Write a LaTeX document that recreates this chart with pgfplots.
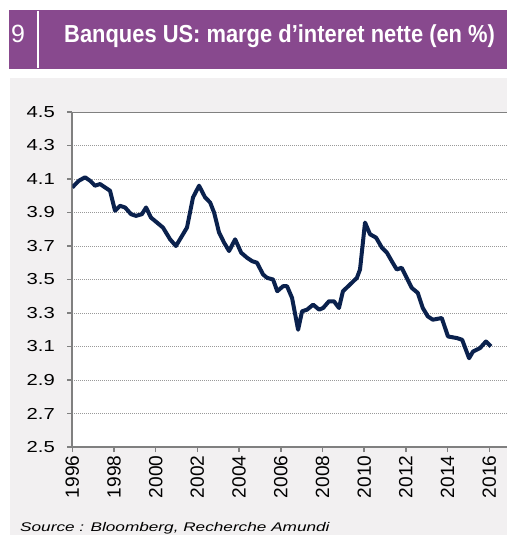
\documentclass[border=0pt]{standalone}
\usepackage{fontspec}
\setmainfont{Liberation Sans}
\newfontfamily\ylab[FakeStretch=1.27]{Liberation Sans}
\newfontfamily\srcfont[FakeStretch=1.37]{Liberation Sans}
\newfontfamily\titlefont[FakeStretch=0.89]{Liberation Sans}
\usepackage{pgfplots}
\pgfplotsset{compat=1.18}
\definecolor{purp}{RGB}{136,73,142}
\definecolor{panel}{RGB}{242,240,241}
\definecolor{navy}{RGB}{10,33,77}
\definecolor{axgray}{RGB}{128,128,128}
\begin{document}
\begin{tikzpicture}[x=1bp,y=1bp]
\useasboundingbox (0,0) rectangle (507,-535);
\fill[white] (0,0) rectangle (507,-535);
\fill[purp] (9,-10) rectangle (507,-69);
\fill[panel] (10,-78) rectangle (507,-535);
\draw[white, line width=2bp] (38.3,-11) -- (38.3,-68);
\node[anchor=base west, text=white, font=\fontsize{25}{25}\selectfont, inner sep=0] at (11,-43) {9};
\node[anchor=base west, text=white, font=\titlefont\bfseries\fontsize{24.7}{25}\selectfont, inner sep=0] at (64,-42.7) {Banques US: marge d’interet nette (en \%)};
\node[anchor=base west, font=\srcfont\itshape\fontsize{12.6}{13}\selectfont, inner sep=0] at (20,-531.5) {Source : Bloomberg, Recherche Amundi};
\begin{axis}[
  at={(72.3bp,-112bp)}, anchor=north west,
  scale only axis, width=434.7bp, height=335bp,
  xmin=1996, xmax=2016.85, ymin=2.5, ymax=4.5,
  axis x line*=bottom, axis y line*=left,
  axis line style={axgray, line width=2bp},
  axis background/.style={fill=white},
  tick align=outside, major tick length=5bp,
  tick style={axgray, line width=1.5bp},
  xtick={1996,1998,2000,2002,2004,2006,2008,2010,2012,2014,2016},
  xticklabels={1996,1998,2000,2002,2004,2006,2008,2010,2012,2014,2016},
  ytick={2.5,2.7,2.9,3.1,3.3,3.5,3.7,3.9,4.1,4.3,4.5},
  yticklabels={2.5,2.7,2.9,3.1,3.3,3.5,3.7,3.9,4.1,4.3,4.5},
  xticklabel style={rotate=90, anchor=east, font=\fontsize{19.2}{20}\selectfont},
  yticklabel style={xshift=-9bp, font=\ylab\fontsize{16}{17}\selectfont},
  ymajorgrids,
  grid style={gray!80, line width=0.8bp, dash pattern=on 1bp off 1bp},
]
\addplot[navy, line width=4bp, line join=round] coordinates {
(1996.00,4.05) (1996.32,4.09) (1996.61,4.11) (1996.85,4.09) (1997.09,4.06)
(1997.33,4.07) (1997.57,4.05) (1997.81,4.03) (1998.05,3.91) (1998.29,3.94)
(1998.53,3.93) (1998.82,3.89) (1999.06,3.88) (1999.34,3.89) (1999.54,3.93)
(1999.77,3.87) (2000.06,3.84) (2000.35,3.81) (2000.69,3.74) (2000.97,3.70)
(2001.26,3.76) (2001.50,3.81) (2001.79,3.99) (2002.08,4.06) (2002.37,3.99)
(2002.61,3.96) (2002.80,3.90) (2003.04,3.78) (2003.28,3.72) (2003.52,3.67)
(2003.81,3.74) (2004.10,3.66) (2004.38,3.63) (2004.62,3.61) (2004.86,3.60)
(2005.15,3.53) (2005.34,3.51) (2005.63,3.50) (2005.83,3.43) (2006.11,3.46)
(2006.30,3.46) (2006.54,3.39) (2006.83,3.20) (2007.02,3.31) (2007.26,3.32)
(2007.55,3.35) (2007.84,3.32) (2008.03,3.33) (2008.31,3.37) (2008.55,3.37)
(2008.79,3.33) (2008.98,3.43) (2009.32,3.47) (2009.65,3.51) (2009.80,3.56)
(2010.04,3.84) (2010.28,3.77) (2010.57,3.75) (2010.85,3.69) (2011.09,3.66)
(2011.32,3.61) (2011.56,3.56) (2011.80,3.57) (2012.04,3.51) (2012.28,3.45)
(2012.57,3.42) (2012.81,3.33) (2013.05,3.28) (2013.29,3.26) (2013.72,3.27)
(2014.02,3.16) (2014.46,3.15) (2014.70,3.14) (2015.03,3.03) (2015.22,3.07)
(2015.55,3.09) (2015.84,3.13) (2016.08,3.10)
};
\draw[axgray, line width=2bp] (rel axis cs:0,1) -- (rel axis cs:1,1);
\end{axis}
\end{tikzpicture}
\end{document}
